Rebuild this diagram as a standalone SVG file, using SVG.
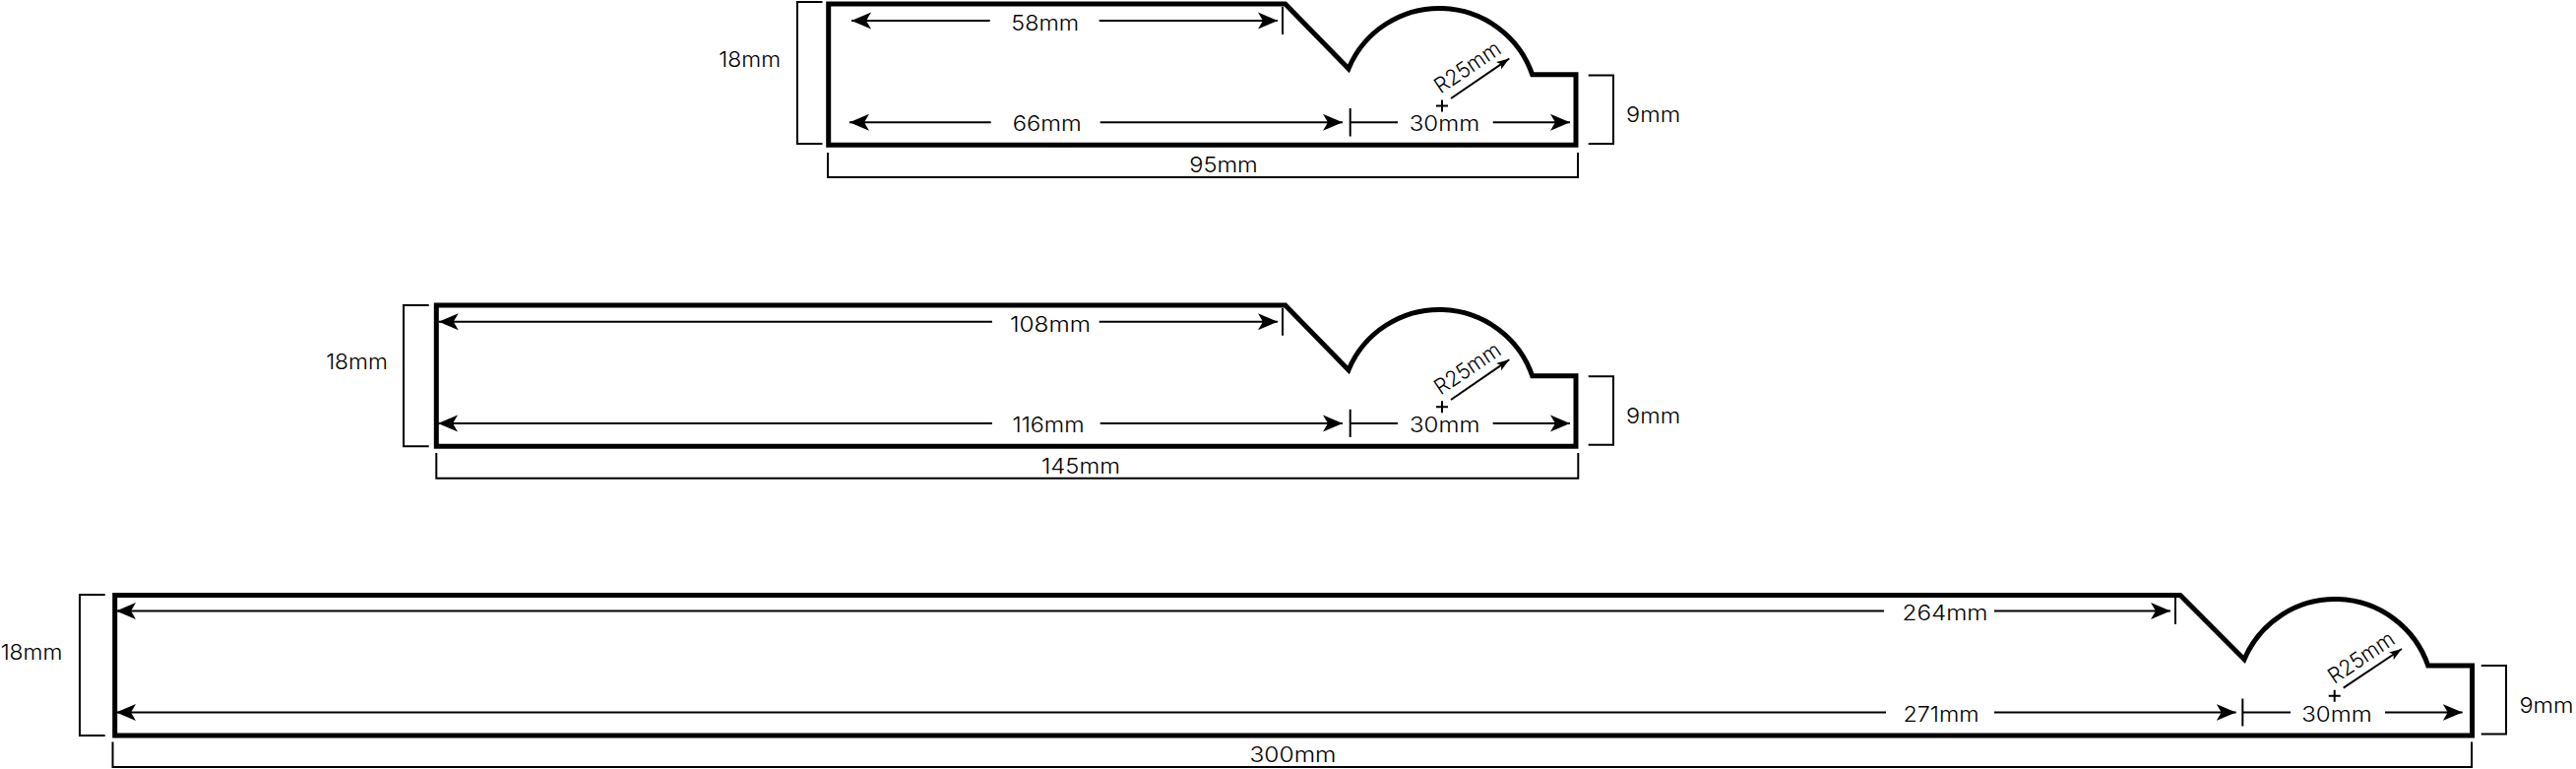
<svg xmlns="http://www.w3.org/2000/svg" width="2617" height="781" viewBox="0 0 2617 781">
<style>
.o{fill:none;stroke:#000;stroke-width:5;stroke-linejoin:miter}
.b{fill:none;stroke:#000;stroke-width:2}
.d{fill:none;stroke:#000;stroke-width:2}
text{font-family:"Inter","Liberation Sans",sans-serif;font-size:22px;font-weight:300;fill:#000;text-anchor:middle}
</style>
<defs>
<marker id="a" markerUnits="userSpaceOnUse" markerWidth="22" markerHeight="20" viewBox="0 -10 22 20" refX="20" refY="0" orient="auto-start-reverse"><path d="M20,0L0,-8.5L5,0L0,8.5Z"/></marker>
<marker id="s" markerUnits="userSpaceOnUse" markerWidth="14" markerHeight="10" viewBox="0 -5 14 10" refX="13" refY="0" orient="auto"><path d="M13,0L0,-4.5L3,0L0,4.5Z"/></marker>
</defs>
<g id="connectors">
<path class="d" marker-start="url(#a)" d="M865,21H1005.7"/>
<path class="d" marker-end="url(#a)" d="M1116.7,21H1298"/>
<path class="d" d="M1303,7V35"/>
<path class="d" marker-start="url(#a)" d="M863,124.3H1006.7"/>
<path class="d" marker-end="url(#a)" d="M1117.7,124.3H1364"/>
<path class="d" d="M1371.7,110V138.5M1371.7,124.3H1420"/>
<path class="d" marker-end="url(#a)" d="M1516.7,124.3H1595"/>
<path class="d" marker-end="url(#s)" d="M1474,100L1533.3,59.5"/>
<path class="d" d="M1459,107.5H1471M1465,101.5V113.5"/>

<path class="d" marker-start="url(#a)" d="M445.7,326.7H1008"/>
<path class="d" marker-end="url(#a)" d="M1116.7,326.7H1298"/>
<path class="d" d="M1303,313V340.7"/>
<path class="d" marker-start="url(#a)" d="M445,430H1008"/>
<path class="d" marker-end="url(#a)" d="M1117.7,430H1364"/>
<path class="d" d="M1371.7,415.7V444M1371.7,430H1420"/>
<path class="d" marker-end="url(#a)" d="M1516.7,430H1595"/>
<path class="d" marker-end="url(#s)" d="M1474,406L1533.3,365.3"/>
<path class="d" d="M1459,413.3H1471M1465,407.3V419.3"/>

<path class="d" marker-start="url(#a)" d="M118,620.5H1914"/>
<path class="d" marker-end="url(#a)" d="M2026,620.5H2205"/>
<path class="d" d="M2210,606.7V634"/>
<path class="d" marker-start="url(#a)" d="M118,723.5H1916"/>
<path class="d" marker-end="url(#a)" d="M2026,723.5H2271.7"/>
<path class="d" d="M2278.3,709.5V737.5M2278.3,723.5H2327"/>
<path class="d" marker-end="url(#a)" d="M2423,723.5H2501.7"/>
<path class="d" marker-end="url(#s)" d="M2380.7,698.7L2440,659"/>
<path class="d" d="M2365.7,706.7H2377.7M2371.7,700.7V712.7"/>
</g>
<g id="profile-95">
<path class="o" d="M841.7,4H1305.7L1370,69.7A100,100 0 0 1 1556.7,75.7H1601V147.3H841.7Z"/>
<path class="b" d="M835.5,2H810V146H835.5"/>
<path class="b" d="M1613.7,76.5H1639V146H1613.7"/>
<path class="b" d="M841,155V180H1603V155"/>
<text x="1061.7" y="30.5" textLength="68.7" lengthAdjust="spacingAndGlyphs">58mm</text>
<text x="1063.7" y="133" textLength="70" lengthAdjust="spacingAndGlyphs">66mm</text>
<text x="1467.5" y="133" textLength="71.4" lengthAdjust="spacingAndGlyphs">30mm</text>
<text x="761.7" y="68" textLength="62.7" lengthAdjust="spacingAndGlyphs">18mm</text>
<text x="1679.6" y="124" textLength="55" lengthAdjust="spacingAndGlyphs">9mm</text>
<text x="1243" y="174.5" textLength="69.6" lengthAdjust="spacingAndGlyphs">95mm</text>
<text transform="translate(1495,74.5) rotate(-34)" textLength="76" lengthAdjust="spacingAndGlyphs">R25mm</text>
</g>
<g id="profile-145">
<path class="o" d="M443.3,310H1305.7L1370,375.7A100,100 0 0 1 1556.7,381.7H1601V453.3H443.3Z"/>
<path class="b" d="M435.7,310H410V453.3H435.7"/>
<path class="b" d="M1613.7,382.3H1639V451.7H1613.7"/>
<path class="b" d="M443.3,460V485.7H1603.3V460"/>
<text x="1067" y="336.5" textLength="82" lengthAdjust="spacingAndGlyphs">108mm</text>
<text x="1065" y="439" textLength="73" lengthAdjust="spacingAndGlyphs">116mm</text>
<text x="1467.7" y="439" textLength="71.4" lengthAdjust="spacingAndGlyphs">30mm</text>
<text x="362.5" y="375" textLength="62.7" lengthAdjust="spacingAndGlyphs">18mm</text>
<text x="1679.6" y="430" textLength="55" lengthAdjust="spacingAndGlyphs">9mm</text>
<text x="1098" y="480.5" textLength="80" lengthAdjust="spacingAndGlyphs">145mm</text>
<text transform="translate(1495,380.5) rotate(-34)" textLength="76" lengthAdjust="spacingAndGlyphs">R25mm</text>
</g>
<g id="profile-300">
<path class="o" d="M116.7,604.5H2215L2280,669.7A100,100 0 0 1 2466.7,676H2511.5V747H116.7Z"/>
<path class="b" d="M106.7,604H81V747H106.7"/>
<path class="b" d="M2520.7,676H2546V745.5H2520.7"/>
<path class="b" d="M114.5,753.5V779H2511V753.5"/>
<text x="1976" y="630" textLength="87" lengthAdjust="spacingAndGlyphs">264mm</text>
<text x="1972" y="733" textLength="77" lengthAdjust="spacingAndGlyphs">271mm</text>
<text x="2374" y="732.5" textLength="71.4" lengthAdjust="spacingAndGlyphs">30mm</text>
<text x="32" y="669.5" textLength="62.7" lengthAdjust="spacingAndGlyphs">18mm</text>
<text x="2587" y="723.5" textLength="55" lengthAdjust="spacingAndGlyphs">9mm</text>
<text x="1313.5" y="774" textLength="88" lengthAdjust="spacingAndGlyphs">300mm</text>
<text transform="translate(2403,674) rotate(-34)" textLength="76" lengthAdjust="spacingAndGlyphs">R25mm</text>
</g>
</svg>
